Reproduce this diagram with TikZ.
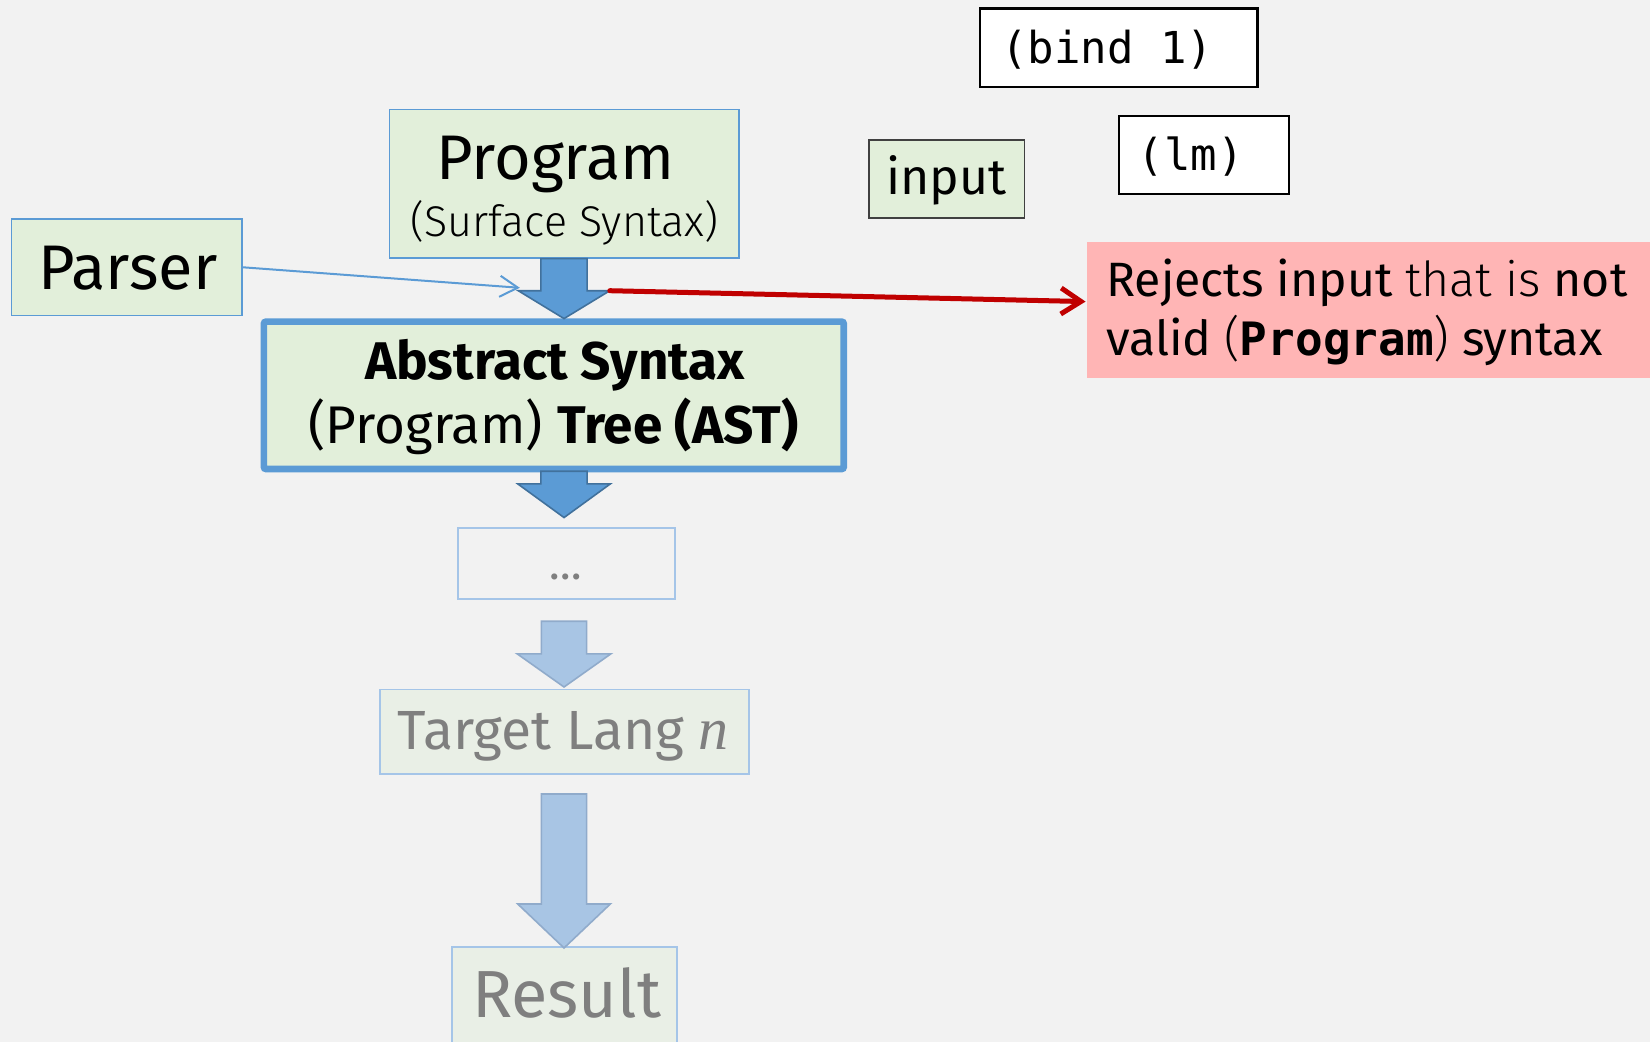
\documentclass[tikz,border=0pt]{standalone}
\usepackage{fontspec}
\setmainfont{Fira Sans}
\newfontfamily\firalight{Fira Sans Light}
\newfontfamily\monof{DejaVu Sans Mono}
\newfontfamily\serifit{Liberation Serif}
\usetikzlibrary{calc,arrows.meta}
\definecolor{bgc}{HTML}{F2F2F2}
\definecolor{greenf}{HTML}{E2EFDA}
\definecolor{fadef}{HTML}{E9EFE6}
\definecolor{blue1}{HTML}{5B9BD5}
\definecolor{blue2}{HTML}{41719C}
\definecolor{lblue}{HTML}{A8C5E4}
\definecolor{lblue2}{HTML}{90ABCB}
\definecolor{lborder}{HTML}{A5C5E8}
\definecolor{graytxt}{HTML}{7F7F7F}
\definecolor{darkred}{HTML}{C00000}
\definecolor{pinkf}{HTML}{FFB5B5}
\definecolor{inpb}{HTML}{404040}
\begin{document}
\begin{tikzpicture}[x=0.5262pt,y=-0.5262pt,
  box/.style={rectangle, draw=blue1, fill=greenf, line width=0.8pt, inner sep=0pt},
  fadebox/.style={rectangle, draw=lborder, fill=fadef, line width=0.9pt, inner sep=0pt},
  codebox/.style={rectangle, draw=black, fill=white, line width=1.1pt, inner sep=0pt},
  sz/.style 2 args={minimum width=#1*0.5262pt, minimum height=#2*0.5262pt},
  lbl/.style={inner sep=0pt, anchor=base},
  fs/.style={font=\fontsize{#1pt}{#1pt}\selectfont},
  darkarr/.style={fill=blue1, draw=blue2, line width=0.8pt, line join=miter},
  lightarr/.style={fill=lblue, draw=lblue2, line width=0.8pt, line join=miter}]
\useasboundingbox (0,0) rectangle (1568,990);
\fill[bgc] (0,0) rectangle (1568,990);

% boxes
\node[box, sz={332}{141}] (prog) at (536,174.5) {};
\node[box, sz={219}{92}] (parser) at (120.5,254) {};
\node[box, line width=3.3pt, rounded corners=1pt, sz={551}{140}] (ast) at (526.3,375.7) {};
\node[fadebox, fill=none, sz={206}{68}] (dots) at (538.3,535.5) {};
\node[fadebox, sz={351}{80}] (tgt) at (536.3,695.2) {};
\node[fadebox, sz={214}{120}] (res) at (536.3,960) {};
\node[box, draw=inpb, sz={148}{74}] (inp) at (899.7,170.3) {};
\node[codebox, sz={264}{75}] (bind) at (1063,45.5) {};
\node[codebox, sz={162}{74}] (lm) at (1144,147.5) {};
\node[rectangle, fill=pinkf, inner sep=0pt, sz={560}{129}] (rej) at (1313,294.6) {};

% texts
\node[lbl, fs=31.5] (tprog) at (527.8,171) {Program};
\node[lbl, fs=21.5] (tsurf) at (536.4,225) {\firalight (Surface Syntax)};
\node[lbl, fs=31.5] (tparser) at (121.5,275) {Parser};
\node[lbl, fs=26.5] (tast1) at (527.3,361) {\bfseries Abstract Syntax};
\node[lbl, fs=26.5] (tast2) at (526,421) {(Program) \textbf{Tree (AST)}};
\node[lbl, fs=22, text=graytxt] (tdots) at (538,551) {\ldots};
\node[lbl, fs=27.6, text=graytxt] (ttgt) at (535,712.5) {Target Lang {\serifit\itshape\fontsize{30pt}{30pt}\selectfont n}};
\node[lbl, fs=33.3, text=graytxt] (tres) at (538.5,967) {Result};
\node[lbl, fs=25] (tinp) at (899.5,185.3) {input};
\node[lbl, anchor=base west, fs=22] (tbind) at (951,60.2) {\monof (bind 1)};
\node[lbl, anchor=base west, fs=22] (tlm) at (1081,162) {\monof (lm)};
\node[lbl, anchor=base west, fs=24.1] (trej1) at (1051,282) {Rejects input {\firalight that is} not};
\node[lbl, anchor=base west, fs=24.1] (trej2) at (1051,337.4) {valid {\firalight (}{\monof\bfseries\fontsize{23pt}{23pt}\selectfont Program}{\firalight )} syntax};

% block arrows
\draw[darkarr] ($(prog.south)+(-22,0)$) -- ++(0,30.5) -- ++(-21.5,0) -- ++(43.5,26.5) -- ++(43.5,-26.5) coordinate (w1) -- ++(-21.5,0) -- ++(0,-30.5) -- cycle;
\draw[darkarr] ($(ast.south -| prog.south)+(-22,-1)$) -- ++(0,12) -- ++(-22,0) -- ++(44,32) -- ++(44,-32) -- ++(-22,0) -- ++(0,-12) -- cycle;
\draw[lightarr] ($(dots.south -| prog.south)+(-21.5,20)$) -- ++(0,31) -- ++(-23,0) -- ++(44.5,31.5) -- ++(44.5,-31.5) -- ++(-23,0) -- ++(0,-31) -- cycle;
\draw[lightarr] ($(tgt.south -| prog.south)+(-21.5,18.5)$) -- ++(0,104.5) -- ++(-22.5,0) -- ++(44,41.8) -- ++(44,-41.8) -- ++(-22.5,0) -- ++(0,-104.5) -- cycle;

% connectors
\coordinate (ptip) at (494,273.5);
\draw[blue1, line width=1pt, -{Straight Barb[length=9pt,width=10.5pt]}] (parser.east) -- (ptip);
\draw[darkred, line width=2.5pt, line cap=round, -{Straight Barb[length=10pt,width=13pt]}] (w1) -- ($(rej.west)+(-1,-8)$);
\end{tikzpicture}
\end{document}
